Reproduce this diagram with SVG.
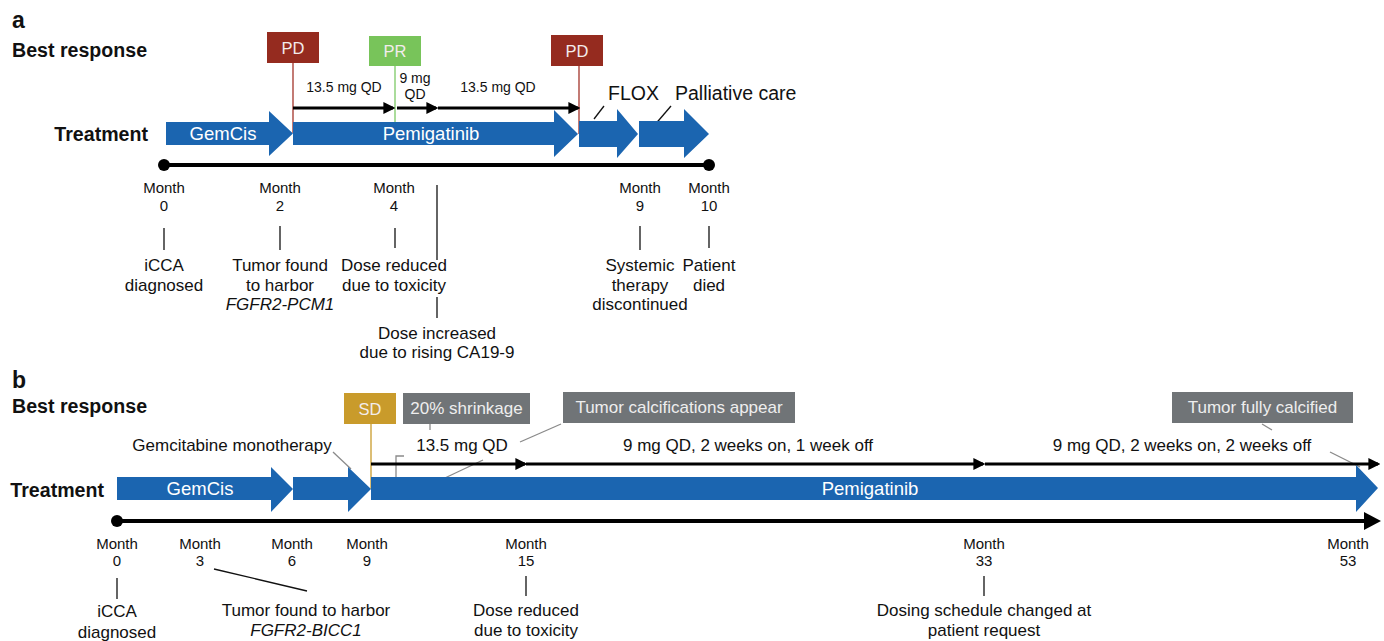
<svg xmlns="http://www.w3.org/2000/svg" width="1384" height="641" viewBox="0 0 1384 641">
<style>
text{font-family:"Liberation Sans",Arial,sans-serif;fill:#111}
.hd{font-weight:bold;font-size:19.6px}
.pl{font-weight:bold;font-size:23px}
.bar{fill:#1B65B0}
.bt{fill:#fff;font-size:18.5px;text-anchor:middle}
.bx{font-size:16.5px;fill:#f3ecec;text-anchor:middle}
.gb{font-size:17px;fill:#eeeeee;text-anchor:middle}
.mo{font-size:15px;text-anchor:middle}
.ev{font-size:17px;text-anchor:middle}
.it{font-style:italic}
.dose{font-size:14px;text-anchor:middle}
.doseb{font-size:17px;text-anchor:middle}
.tk{stroke:#111;stroke-width:1.3;fill:none}
.gl{stroke:#8a8a8a;stroke-width:1.3;fill:none}
.da{stroke:#000;stroke-width:3;fill:none;marker-end:url(#ah)}
.tl{stroke:#000;stroke-width:4;fill:none}
</style>
<defs>
<marker id="ah" markerWidth="4" markerHeight="4" refX="3.2" refY="2" orient="auto" markerUnits="strokeWidth">
<path d="M0,0 L4,2 L0,4 z" fill="#000"/>
</marker>
</defs>

<!-- Panel a -->
<g id="panel-a-labels">
<text class="pl" x="12" y="28">a</text>
<text class="hd" x="12" y="57">Best response</text>
<text class="hd" x="148" y="141" text-anchor="end">Treatment</text>
</g>

<g id="connectors">
<line x1="293" y1="63" x2="293" y2="133" stroke="#A3342A" stroke-width="1.3"/>
<line x1="395" y1="66" x2="395" y2="122" stroke="#8ED07A" stroke-width="1.5"/>
<line x1="579" y1="66" x2="579" y2="134" stroke="#A3342A" stroke-width="1.3"/>
<line class="da" x1="293" y1="108" x2="393" y2="108"/>
<line class="da" x1="397" y1="108" x2="436" y2="108"/>
<line class="da" x1="438" y1="108" x2="578" y2="108"/>
<line class="tk" x1="604" y1="106" x2="594" y2="119"/>
<line class="tk" x1="671" y1="106" x2="653" y2="127"/>
<line class="tl" x1="164" y1="165" x2="709" y2="165"/>
<circle cx="164" cy="165" r="6" fill="#000"/>
<circle cx="709" cy="165" r="6" fill="#000"/>
<line class="tk" x1="164" y1="228" x2="164" y2="250"/>
<line class="tk" x1="280" y1="226" x2="280" y2="250"/>
<line class="tk" x1="395" y1="228" x2="395" y2="248"/>
<line class="tk" x1="437" y1="185" x2="437" y2="260"/>
<line class="tk" x1="437" y1="297" x2="437" y2="318"/>
<line class="tk" x1="640" y1="226" x2="640" y2="250"/>
<line class="tk" x1="709" y1="226" x2="709" y2="248"/>

<line x1="371" y1="424" x2="371" y2="489" stroke="#C99B2B" stroke-width="1.3"/>
<line class="gl" x1="430" y1="424" x2="430" y2="430"/>
<line class="gl" x1="561" y1="424" x2="520" y2="442"/>
<line class="gl" x1="1262" y1="424" x2="1272" y2="430"/>
<line class="gl" x1="1330" y1="452" x2="1360" y2="467"/>
<line class="gl" x1="333" y1="452" x2="351" y2="469"/>
<polyline class="gl" points="404,456 396,456 396,486"/>
<line class="gl" x1="483" y1="460" x2="430" y2="485"/>
<line class="da" x1="371" y1="464" x2="525" y2="464"/>
<line class="da" x1="526" y1="464" x2="983" y2="464"/>
<line class="da" x1="985" y1="464" x2="1378" y2="464"/>
<line class="tl" x1="117" y1="521" x2="1370" y2="521"/>
<path d="M1364,512 L1381,521 L1364,530 z" fill="#000"/>
<circle cx="117" cy="521" r="6" fill="#000"/>
<line class="tk" x1="117" y1="578" x2="117" y2="599"/>
<line class="tk" x1="214" y1="569" x2="307" y2="591"/>
<line class="tk" x1="526" y1="576" x2="526" y2="596"/>
<line class="tk" x1="984" y1="576" x2="984" y2="596"/>
</g>

<g id="pd1"><rect x="267" y="32" width="52" height="31" fill="#952B1F"/><text class="bx" x="293" y="54">PD</text></g>
<g id="pr"><rect x="369" y="36" width="52" height="30" fill="#78C45A"/><text class="bx" x="395" y="57">PR</text></g>
<g id="pd2"><rect x="551" y="35" width="52" height="31" fill="#952B1F"/><text class="bx" x="577" y="57">PD</text></g>

<g id="dose-a">
<text class="dose" x="344" y="92">13.5 mg QD</text>
<text class="dose" x="415" y="83">9 mg</text>
<text class="dose" x="415" y="99">QD</text>
<text class="dose" x="498" y="92">13.5 mg QD</text>
</g>

<g id="gemcis-a"><polygon class="bar" points="166,122 269,122 269,111 293,133.5 269,156 269,145 166,145"/><text class="bt" x="223" y="140">GemCis</text></g>
<g id="pemigatinib-a"><polygon class="bar" points="293,122 554,122 554,110 578,134 554,157 554,145 293,145"/><text class="bt" x="431" y="140">Pemigatinib</text></g>
<g id="flox"><polygon class="bar" points="579,121 617,121 617,109 638,134 617,158 617,147 579,147"/><text x="608" y="100" font-size="19.5">FLOX</text></g>
<g id="palliative"><polygon class="bar" points="639,121 684,121 684,109 709,134 684,158 684,147 639,147"/><text x="675" y="100" font-size="19.5">Palliative care</text></g>

<g id="months-a">
<text class="mo" x="164" y="193">Month</text><text class="mo" x="164" y="211">0</text>
<text class="mo" x="280" y="193">Month</text><text class="mo" x="280" y="211">2</text>
<text class="mo" x="394" y="193">Month</text><text class="mo" x="394" y="211">4</text>
<text class="mo" x="640" y="193">Month</text><text class="mo" x="640" y="211">9</text>
<text class="mo" x="709" y="193">Month</text><text class="mo" x="709" y="211">10</text>
</g>
<g id="events-a">
<text class="ev" x="164" y="271">iCCA</text><text class="ev" x="164" y="291">diagnosed</text>
<text class="ev" x="280" y="271">Tumor found</text><text class="ev" x="280" y="291">to harbor</text><text class="ev it" x="280" y="310">FGFR2-PCM1</text>
<text class="ev" x="394" y="271">Dose reduced</text><text class="ev" x="394" y="291">due to toxicity</text>
<text class="ev" x="437" y="339">Dose increased</text><text class="ev" x="437" y="358">due to rising CA19-9</text>
<text class="ev" x="640" y="271">Systemic</text><text class="ev" x="640" y="291">therapy</text><text class="ev" x="640" y="310">discontinued</text>
<text class="ev" x="709" y="271">Patient</text><text class="ev" x="709" y="291">died</text>
</g>

<!-- Panel b -->
<g id="panel-b-labels">
<text class="pl" x="12" y="388">b</text>
<text class="hd" x="12" y="413">Best response</text>
<text class="hd" x="104" y="497" text-anchor="end">Treatment</text>
</g>
<g id="sd"><rect x="344" y="393" width="52" height="31" fill="#C99B2B"/><text class="bx" x="370" y="415">SD</text></g>
<g id="shrinkage"><rect x="403" y="393" width="127" height="31" fill="#707477"/><text class="gb" x="466.5" y="414">20% shrinkage</text></g>
<g id="calcifications"><rect x="563" y="392" width="232" height="31" fill="#707477"/><text class="gb" x="679" y="413">Tumor calcifications appear</text></g>
<g id="fully-calcified"><rect x="1172" y="392" width="181" height="31" fill="#707477"/><text class="gb" x="1262.5" y="413">Tumor fully calcified</text></g>

<g id="dose-b">
<text class="ev" x="232" y="451">Gemcitabine monotherapy</text>
<text class="doseb" x="462" y="451">13.5 mg QD</text>
<text class="ev" x="748" y="451">9 mg QD, 2 weeks on, 1 week off</text>
<text class="ev" x="1182" y="451">9 mg QD, 2 weeks on, 2 weeks off</text>
</g>

<g id="gemcis-b"><polygon class="bar" points="117,477 271,477 271,467 293,489 271,512 271,500 117,500"/><text class="bt" x="200" y="495">GemCis</text></g>
<g id="gem-mono-b"><polygon class="bar" points="293,477 348,477 348,467 371,489 348,512 348,500 293,500"/></g>
<g id="pemigatinib-b"><polygon class="bar" points="371,477 1356,477 1356,465 1378,488 1356,512 1356,500 371,500"/><text class="bt" x="870" y="495">Pemigatinib</text></g>

<g id="months-b">
<text class="mo" x="117" y="549">Month</text><text class="mo" x="117" y="566">0</text>
<text class="mo" x="200" y="549">Month</text><text class="mo" x="200" y="566">3</text>
<text class="mo" x="292" y="549">Month</text><text class="mo" x="292" y="566">6</text>
<text class="mo" x="367" y="549">Month</text><text class="mo" x="367" y="566">9</text>
<text class="mo" x="526" y="549">Month</text><text class="mo" x="526" y="566">15</text>
<text class="mo" x="984" y="549">Month</text><text class="mo" x="984" y="566">33</text>
<text class="mo" x="1348" y="549">Month</text><text class="mo" x="1348" y="566">53</text>
</g>
<g id="events-b">
<text class="ev" x="117" y="617">iCCA</text><text class="ev" x="117" y="638">diagnosed</text>
<text class="ev" x="306" y="616">Tumor found to harbor</text><text class="ev it" x="306" y="636">FGFR2-BICC1</text>
<text class="ev" x="526" y="616">Dose reduced</text><text class="ev" x="526" y="636">due to toxicity</text>
<text class="ev" x="984" y="616">Dosing schedule changed at</text><text class="ev" x="984" y="636">patient request</text>
</g>
</svg>
